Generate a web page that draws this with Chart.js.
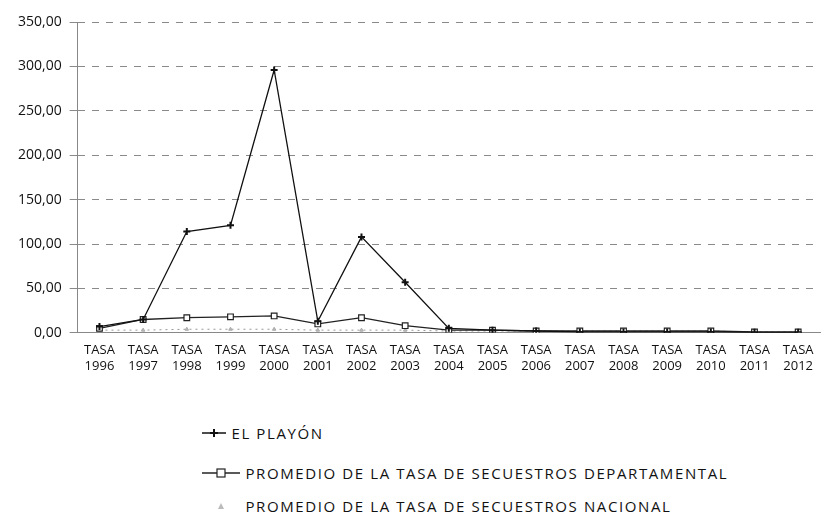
<!DOCTYPE html>
<html>
<head>
<meta charset="utf-8">
<script src="https://cdn.jsdelivr.net/npm/chart.js@4/dist/chart.umd.min.js"></script>
<style>
  body { margin: 0; background: #fff; font-family: "Open Sans", sans-serif; }
  #wrap { position: relative; width: 826px; height: 521px; }
  #box { position: absolute; left: 0; top: 0; width: 826px; height: 384px; }
  .leg { position: absolute; font-size: 15px; letter-spacing: 1.6px; color: #111; white-space: nowrap; }
  .leg span { display: inline-block; vertical-align: middle; }
  .leg canvas { vertical-align: middle; }
</style>
</head>
<body>
<div id="wrap">
  <div id="box"><canvas id="chart"></canvas></div>
  <div class="leg" style="left:202px;top:421px"><canvas id="k0" width="24" height="12"></canvas> <span>EL PLAYÓN</span></div>
  <div class="leg" style="left:202px;top:461px"><canvas id="k1" width="38" height="12"></canvas> <span>PROMEDIO DE LA TASA DE SECUESTROS DEPARTAMENTAL</span></div>
  <div class="leg" style="left:202px;top:494px"><canvas id="k2" width="38" height="12"></canvas> <span>PROMEDIO DE LA TASA DE SECUESTROS NACIONAL</span></div>
</div>
<script>
var years = ["1996", "1997", "1998", "1999", "2000", "2001", "2002", "2003", "2004",
  "2005", "2006", "2007", "2008", "2009", "2010", "2011", "2012"];
var elPlayon = [7, 15, 114, 121, 296, 13, 108, 57, 5, 3, 2, 1, 1, 1, 1, 0.5, 0.5];
var departamental = [5, 15, 17, 18, 19, 10, 17, 8, 3, 3, 2, 2, 2, 2, 2, 1, 1];
var nacional = [3, 3, 4, 4, 4, 3, 3, 3, 2, 2, 2, 2, 2, 2, 2, 1, 1];
var seriesNames = ["EL PLAYÓN", "PROMEDIO DE LA TASA DE SECUESTROS DEPARTAMENTAL",
  "PROMEDIO DE LA TASA DE SECUESTROS NACIONAL"];

var labels = years.map(y => ["TASA", y]);

var fmt = function(v) {
  return v.toFixed(2).replace(".", ",");
};

var ctx = document.getElementById("chart").getContext("2d");
var myChart = new Chart(ctx, {
  type: "line",
  data: {
    labels: labels,
    datasets: [
      {
        label: seriesNames[0],
        data: elPlayon,
        borderColor: "#111",
        borderWidth: 1.3,
        pointStyle: "cross",
        pointRadius: 3.5,
        pointBorderColor: "#111",
        pointBorderWidth: 2,
        tension: 0
      },
      {
        label: seriesNames[1],
        data: departamental,
        borderColor: "#222",
        borderWidth: 1.3,
        pointStyle: "rect",
        pointRadius: 4,
        pointBackgroundColor: "#fff",
        pointBorderColor: "#222",
        pointBorderWidth: 1.2,
        tension: 0
      },
      {
        label: seriesNames[2],
        data: nacional,
        borderColor: "#999",
        borderWidth: 1,
        borderDash: [2, 4],
        pointStyle: "triangle",
        pointRadius: 2,
        pointBackgroundColor: "#bbb",
        pointBorderColor: "#aaa",
        tension: 0
      }
    ]
  },
  options: {
    responsive: true,
    maintainAspectRatio: false,
    animation: false,
    layout: { padding: { top: 22, left: 10, right: 0, bottom: 0 } },
    plugins: {
      legend: { display: false },
      tooltip: { enabled: false }
    },
    scales: {
      x: {
        offset: true,
        grid: { display: false, drawTicks: false },
        border: { display: true, color: "#888", dash: [3, 5] },
        ticks: {
          color: "#111",
          font: { family: "Open Sans", size: 13 },
          maxRotation: 0,
          autoSkip: false,
          padding: 10
        }
      },
      y: {
        min: 0,
        max: 350,
        grid: { color: "#8a8a8a", lineWidth: 1, tickLength: 8 },
        border: { display: true, color: "#888", dash: [7, 7] },
        ticks: {
          stepSize: 50,
          color: "#111",
          font: { family: "Open Sans", size: 14 },
          padding: 8,
          callback: function(v) { return fmt(v); }
        }
      }
    }
  }
});

// legend keys drawn small, same look as the series
var drawKey = function(id, color, style) {
  var c = document.getElementById(id).getContext("2d");
  var w = c.canvas.width;
  var mx = w / 2;
  if (style !== "triangle") {
    c.strokeStyle = color;
    c.lineWidth = 1.5;
    c.beginPath();
    c.moveTo(0, 6);
    c.lineTo(w, 6);
    c.stroke();
  }
  if (style === "cross") {
    c.beginPath();
    c.moveTo(mx, 2); c.lineTo(mx, 10);
    c.moveTo(mx - 4, 6); c.lineTo(mx + 4, 6);
    c.lineWidth = 2;
    c.stroke();
  } else if (style === "rect") {
    c.fillStyle = "#fff";
    c.fillRect(mx - 4, 2, 8, 8);
    c.lineWidth = 1.2;
    c.strokeRect(mx - 4, 2, 8, 8);
  } else {
    c.fillStyle = "#bbb";
    c.beginPath();
    c.moveTo(mx, 3); c.lineTo(mx + 3, 9); c.lineTo(mx - 3, 9);
    c.fill();
  }
};
drawKey("k0", "#111", "cross");
drawKey("k1", "#222", "rect");
drawKey("k2", "#bbb", "triangle");
</script>
</body>
</html>
